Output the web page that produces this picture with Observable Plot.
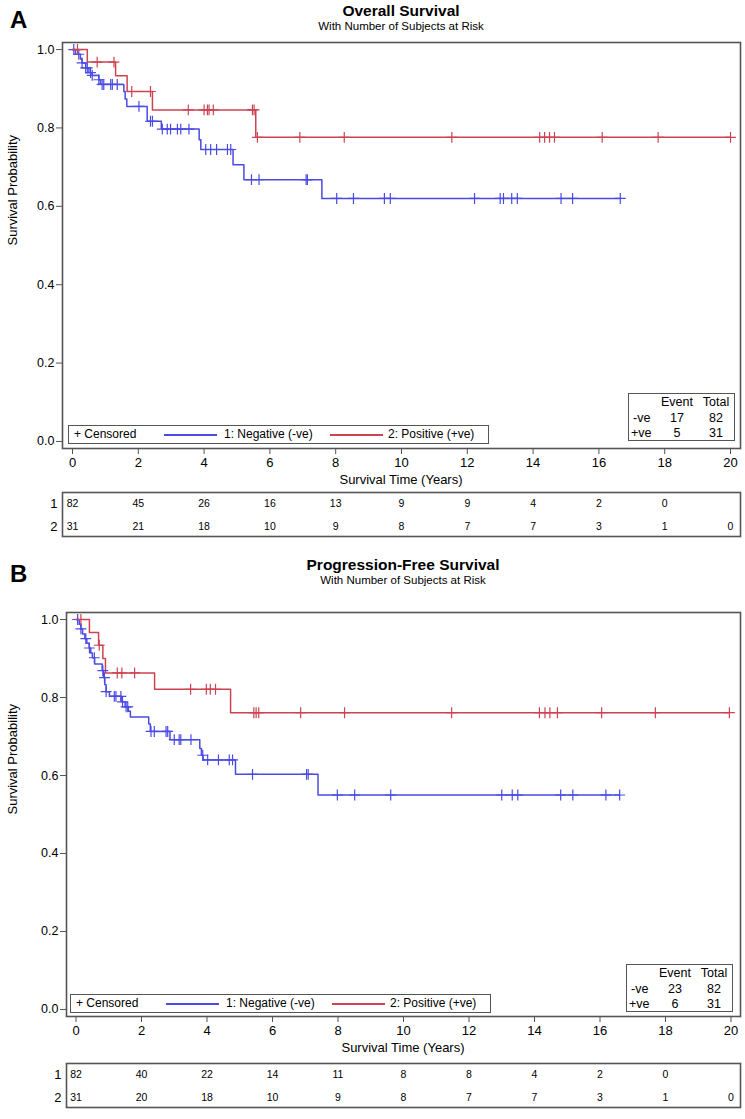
<!DOCTYPE html>
<html><head><meta charset="utf-8">
<script src="https://cdn.jsdelivr.net/npm/d3@7"></script>
<script src="https://cdn.jsdelivr.net/npm/@observablehq/plot@0.6"></script>
<style>
body{margin:0;background:#fff;}
#page{position:relative;width:745px;height:1119px;overflow:hidden;font-family:"Liberation Sans",Arial,sans-serif;color:#000;background:#fff;}
.abs{position:absolute;white-space:nowrap;}
.letter{font-weight:bold;font-size:24px;line-height:24px;}
.title{font-weight:bold;font-size:15.5px;line-height:15px;text-align:center;}
.subtitle{font-size:11.5px;line-height:12px;text-align:center;}
.xlabel{font-size:13px;line-height:14px;text-align:center;}
.box{position:absolute;border:1.5px solid #555;box-sizing:border-box;background:#fff;font-size:12px;}
.box span{position:absolute;line-height:14px;white-space:nowrap;}
.swatch{position:absolute;height:0;border-top:2px solid;}
svg{position:absolute;overflow:visible;}
</style>
</head><body><div id="page"></div>
<script>
// ---------- shared ----------
const timeTicks = [0, 2, 4, 6, 8, 10, 12, 14, 16, 18, 20];
const probTicks = [0, 0.2, 0.4, 0.6, 0.8, 1.0];
const groups = ["1: Negative (-ve)", "2: Positive (+ve)"];
const groupColors = ["#4b4be3", "#cc4452"];
const riskRowLabels = ["1", "2"];

// ---------- Panel A: Overall Survival ----------
const osTitle = "Overall Survival";
const osNegStepTime = [0, 0.09, 0.24, 0.29, 0.40, 0.50, 0.60, 0.80, 0.85, 1.56, 1.60, 1.65, 2.27, 2.70, 3.85, 3.90, 4.88, 5.21, 7.58];
const osNegStepSurv = [1.000, 0.988, 0.976, 0.966, 0.953, 0.941, 0.934, 0.923, 0.911, 0.893, 0.874, 0.855, 0.817, 0.797, 0.770, 0.745, 0.706, 0.668, 0.620];
const osNegCensor = [0.04, 0.19, 0.29, 0.40, 0.45, 0.55, 0.60, 0.80, 0.90, 0.95, 1.16, 1.21, 1.36, 2.02, 2.37, 2.43, 2.73, 2.88, 2.98, 3.19, 3.29, 3.54, 4.05, 4.20, 4.38, 4.71, 4.81, 5.44, 5.67, 7.10, 7.14, 8.03, 8.54, 9.48, 9.66, 12.22, 13.00, 13.10, 13.35, 13.52, 14.85, 15.20, 16.65];
const osPosStepTime = [0, 0.45, 1.31, 1.66, 2.43, 5.57];
const osPosStepSurv = [1.000, 0.968, 0.933, 0.893, 0.846, 0.776];
const osPosCensor = [0.15, 0.75, 1.26, 1.80, 2.37, 3.52, 4.00, 4.10, 4.15, 4.28, 5.47, 5.52, 5.62, 6.91, 8.26, 11.53, 14.20, 14.35, 14.50, 14.65, 16.10, 17.80, 20.00];
const osRiskNeg = [82, 45, 26, 16, 13, 9, 9, 4, 2, 0, null];
const osRiskPos = [31, 21, 18, 10, 9, 8, 7, 7, 3, 1, 0];
const osEvents = [17, 5];
const osTotals = [82, 31];

// ---------- Panel B: Progression-Free Survival ----------
const pfsTitle = "Progression-Free Survival";
const pfsNegStepTime = [0, 0.10, 0.15, 0.20, 0.27, 0.33, 0.40, 0.45, 0.50, 0.57, 0.80, 0.84, 0.88, 0.92, 1.02, 1.38, 1.50, 1.60, 1.66, 2.22, 2.27, 2.87, 3.78, 3.83, 3.88, 4.87, 7.39];
const pfsNegStepSurv = [1.000, 0.988, 0.976, 0.963, 0.951, 0.939, 0.927, 0.914, 0.902, 0.886, 0.869, 0.851, 0.833, 0.815, 0.803, 0.789, 0.776, 0.765, 0.750, 0.732, 0.713, 0.692, 0.669, 0.652, 0.640, 0.603, 0.550];
const pfsNegCensor = [0.05, 0.15, 0.30, 0.41, 0.56, 0.82, 0.87, 0.92, 1.17, 1.22, 1.37, 1.42, 1.53, 1.58, 2.29, 2.39, 2.75, 2.80, 3.00, 3.15, 3.20, 3.51, 3.87, 4.02, 4.35, 4.68, 4.78, 5.39, 7.04, 7.09, 7.98, 8.51, 9.61, 13.00, 13.32, 13.49, 14.80, 15.17, 16.18, 16.60];
const pfsPosStepTime = [0, 0.41, 0.69, 0.82, 0.90, 2.40, 4.72];
const pfsPosStepSurv = [1.000, 0.967, 0.934, 0.900, 0.863, 0.821, 0.761];
const pfsPosCensor = [0.15, 0.71, 1.26, 1.40, 1.79, 3.50, 3.98, 4.10, 4.26, 5.43, 5.50, 5.58, 6.86, 8.20, 11.47, 14.15, 14.32, 14.47, 14.70, 16.05, 17.69, 19.95];
const pfsRiskNeg = [82, 40, 22, 14, 11, 8, 8, 4, 2, 0, null];
const pfsRiskPos = [31, 20, 18, 10, 9, 8, 7, 7, 3, 1, 0];
const pfsEvents = [23, 6];
const pfsTotals = [82, 31];

// ---------- helpers ----------
const page = document.getElementById("page");
function addDiv(cls, text, style) {
  const d = document.createElement("div");
  d.className = "abs " + cls;
  d.textContent = text;
  Object.assign(d.style, style);
  page.appendChild(d);
  return d;
}
function survAt(times, surv, t) {
  let v = surv[0];
  for (let i = 0; i < times.length; i++) if (times[i] <= t) v = surv[i];
  return v;
}
function curveRows(T, S, C, g) {
  const rows = T.map((t, i) => ({t, s: S[i], g}));
  rows.push({t: Math.max(d3.max(C), T[T.length - 1]), s: S[S.length - 1], g});
  return rows;
}
function censorRows(T, S, C, g) {
  return C.map(t => ({t, s: survAt(T, S, t), g}));
}

function panel(cfg) {
  const {letter, title, top, frameLeft, frameTop, plotH, xPad, yPad,
         negT, negS, negC, posT, posS, posC, riskNeg, riskPos, events, totals,
         legendLeft, legendTop, evLeft, evTop, riskTop} = cfg;
  const frameRight = 740;

  addDiv("letter", letter, {left: "10px", top: (top + 5) + "px"});
  addDiv("title", title, {left: frameLeft + "px", width: (frameRight - frameLeft) + "px", top: top + "px"});
  addDiv("subtitle", "With Number of Subjects at Risk", {left: frameLeft + "px", width: (frameRight - frameLeft) + "px", top: (top + 17) + "px"});

  const lines = [...curveRows(negT, negS, negC, groups[0]), ...curveRows(posT, posS, posC, groups[1])];
  const cens = [...censorRows(negT, negS, negC, groups[0]), ...censorRows(posT, posS, posC, groups[1])];

  const km = Plot.plot({
    width: 745, height: 6 + plotH + 30,
    marginLeft: frameLeft, marginRight: 745 - frameRight, marginTop: 6, marginBottom: 30,
    style: {fontFamily: '"Liberation Sans", Arial, sans-serif', fontSize: "12px", background: "transparent", color: "#000"},
    x: {domain: [-xPad, 20 + xPad]},
    y: {domain: [-yPad, 1 + yPad]},
    color: {domain: groups, range: groupColors},
    marks: [
      Plot.axisY(probTicks, {tickFormat: d3.format(".1f"), tickSize: 6, tickPadding: 2, stroke: "#555", label: null, fontSize: 12.5}),
      Plot.axisX(timeTicks, {tickSize: 6, tickPadding: 3, stroke: "#555", label: null, fontSize: 13}),
      Plot.line(lines, {x: "t", y: "s", z: "g", stroke: "g", curve: "step-after", strokeWidth: 1.5}),
      Plot.dot(cens, {x: "t", y: "s", stroke: "g", symbol: "plus", r: 3.6, strokeWidth: 1.2}),
      Plot.frame({stroke: "#555", strokeWidth: 1.6}),
      Plot.text(["Survival Probability"], {frameAnchor: "left", rotate: -90, dx: 12 - frameLeft, fontSize: 13})
    ]
  });
  km.style.left = "0px";
  km.style.top = (frameTop - 6) + "px";
  page.appendChild(km);

  addDiv("xlabel", "Survival Time (Years)", {left: frameLeft + "px", width: (frameRight - frameLeft) + "px", top: (frameTop + plotH + 25) + "px"});

  // legend box
  const lg = document.createElement("div");
  lg.className = "box";
  Object.assign(lg.style, {left: legendLeft + "px", top: legendTop + "px", width: "421px", height: "19px"});
  lg.innerHTML =
    `<span style="left:5px;top:1px">+ Censored</span>` +
    `<div class="swatch" style="left:95px;width:53px;top:8px;border-color:${groupColors[0]}"></div>` +
    `<span style="left:155px;top:1px">${groups[0]}</span>` +
    `<div class="swatch" style="left:261px;width:53px;top:8px;border-color:${groupColors[1]}"></div>` +
    `<span style="left:319px;top:1px">${groups[1]}</span>`;
  page.appendChild(lg);

  // event / total box
  const ev = document.createElement("div");
  ev.className = "box";
  Object.assign(ev.style, {left: evLeft + "px", top: evTop + "px", width: "107px", height: "48px", fontSize: "12.5px"});
  const c1 = 48, c2 = 87;
  ev.innerHTML =
    `<span style="left:${c1}px;top:1px;transform:translateX(-50%)">Event</span>` +
    `<span style="left:${c2}px;top:1px;transform:translateX(-50%)">Total</span>` +
    `<span style="left:4px;top:17px">-ve</span>` +
    `<span style="left:${c1}px;top:17px;transform:translateX(-50%)">${events[0]}</span>` +
    `<span style="left:${c2}px;top:17px;transform:translateX(-50%)">${totals[0]}</span>` +
    `<span style="left:2px;top:32px">+ve</span>` +
    `<span style="left:${c1}px;top:32px;transform:translateX(-50%)">${events[1]}</span>` +
    `<span style="left:${c2}px;top:32px;transform:translateX(-50%)">${totals[1]}</span>`;
  page.appendChild(ev);

  // risk table
  const riskRows = [];
  timeTicks.forEach((t, i) => {
    if (riskNeg[i] != null) riskRows.push({t, row: riskRowLabels[0], n: riskNeg[i]});
    if (riskPos[i] != null) riskRows.push({t, row: riskRowLabels[1], n: riskPos[i]});
  });
  const rt = Plot.plot({
    width: 745, height: 50,
    marginLeft: frameLeft, marginRight: 745 - frameRight, marginTop: 3, marginBottom: 3,
    style: {fontFamily: '"Liberation Sans", Arial, sans-serif', fontSize: "12px", background: "transparent", color: "#000"},
    x: {domain: [-xPad, 20 + xPad], axis: null},
    y: {type: "point", domain: riskRowLabels, padding: 0.45},
    marks: [
      Plot.frame({stroke: "#555", strokeWidth: 1.6}),
      Plot.axisY({tickSize: 0, tickPadding: 5, label: null, fontSize: 13}),
      Plot.text(riskRows, {x: "t", y: "row", text: "n", fontSize: 10.5})
    ]
  });
  rt.style.left = "0px";
  rt.style.top = riskTop + "px";
  page.appendChild(rt);
}

panel({letter: "A", title: osTitle, top: 3, frameLeft: 62, frameTop: 42, plotH: 406, xPad: 0.304, yPad: 0.018,
  negT: osNegStepTime, negS: osNegStepSurv, negC: osNegCensor,
  posT: osPosStepTime, posS: osPosStepSurv, posC: osPosCensor,
  riskNeg: osRiskNeg, riskPos: osRiskPos, events: osEvents, totals: osTotals,
  legendLeft: 68, legendTop: 425, evLeft: 628, evTop: 393, riskTop: 489});

panel({letter: "B", title: pfsTitle, top: 557, frameLeft: 66, frameTop: 612, plotH: 404, xPad: 0.29, yPad: 0.018,
  negT: pfsNegStepTime, negS: pfsNegStepSurv, negC: pfsNegCensor,
  posT: pfsPosStepTime, posS: pfsPosStepSurv, posC: pfsPosCensor,
  riskNeg: pfsRiskNeg, riskPos: pfsRiskPos, events: pfsEvents, totals: pfsTotals,
  legendLeft: 70, legendTop: 994, evLeft: 626, evTop: 964, riskTop: 1060});
</script>
</body></html>
